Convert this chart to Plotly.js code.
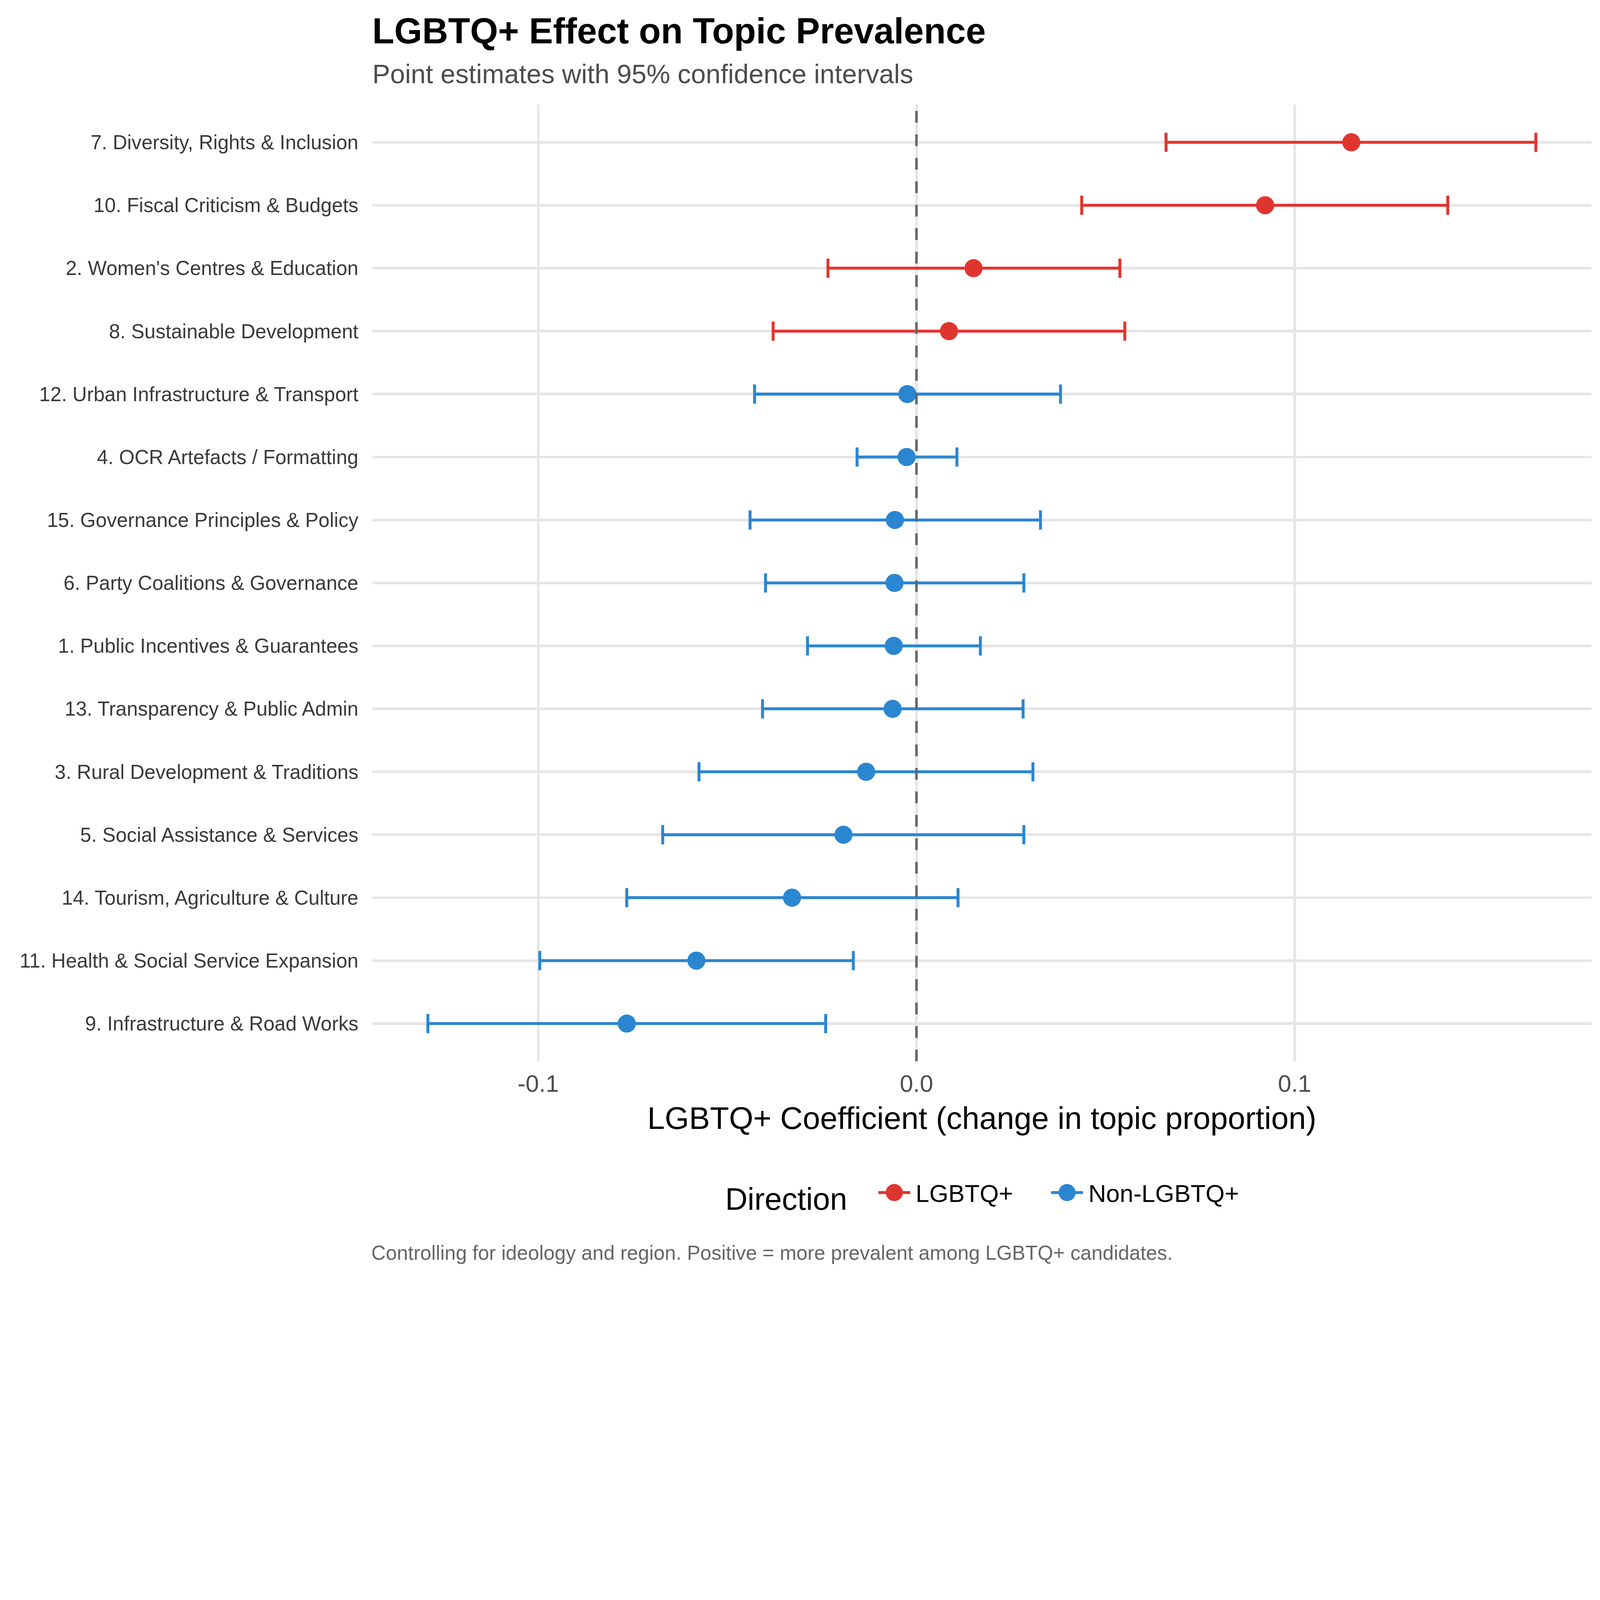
<!DOCTYPE html>
<html>
<head>
<meta charset="utf-8">
<script src="https://cdn.plot.ly/plotly-3.0.1.min.js"></script>
<style>
html, body { margin:0; padding:0; background:#ffffff; overflow:hidden; }
#wrap { width:1500px; height:1200px; transform-origin:0 0; position:absolute; left:0; top:0; }
#chart { width:1500px; height:1200px; }
</style>
</head>
<body>
<div id="wrap"><div id="chart"></div></div>
<script>
// ---- data (top to bottom) ----
const topics = [
  "7. Diversity, Rights & Inclusion",
  "10. Fiscal Criticism & Budgets",
  "2. Women's Centres & Education",
  "8. Sustainable Development",
  "12. Urban Infrastructure & Transport",
  "4. OCR Artefacts / Formatting",
  "15. Governance Principles & Policy",
  "6. Party Coalitions & Governance",
  "1. Public Incentives & Guarantees",
  "13. Transparency & Public Admin",
  "3. Rural Development & Traditions",
  "5. Social Assistance & Services",
  "14. Tourism, Agriculture & Culture",
  "11. Health & Social Service Expansion",
  "9. Infrastructure & Road Works"
];
const estimate = [0.1150, 0.0922, 0.0151, 0.0086, -0.0024, -0.0026, -0.0057, -0.0058, -0.0060, -0.0063, -0.0133, -0.0193, -0.0329, -0.0582, -0.0766];
const ciLow    = [0.0660, 0.0437, -0.0234, -0.0379, -0.0428, -0.0157, -0.0440, -0.0399, -0.0288, -0.0407, -0.0575, -0.0671, -0.0766, -0.0996, -0.1292];
const ciHigh   = [0.1638, 0.1405, 0.0538, 0.0551, 0.0381, 0.0107, 0.0328, 0.0284, 0.0169, 0.0282, 0.0308, 0.0284, 0.0110, -0.0167, -0.0240];
const direction = ["LGBTQ+","LGBTQ+","LGBTQ+","LGBTQ+","Non-LGBTQ+","Non-LGBTQ+","Non-LGBTQ+","Non-LGBTQ+","Non-LGBTQ+","Non-LGBTQ+","Non-LGBTQ+","Non-LGBTQ+","Non-LGBTQ+","Non-LGBTQ+","Non-LGBTQ+"];
const groups = ["LGBTQ+", "Non-LGBTQ+"];
const xTickVals = [-0.1, 0.0, 0.1];
const xTickText = ["-0.1", "0.0", "0.1"];

// ---- style ----
const FONT = "Liberation Sans, Arial, Helvetica, sans-serif";
const groupColors = {"LGBTQ+": "#E0352F", "Non-LGBTQ+": "#2B86D1"};
const W = 1500, H = 1200;
const NBSP = "\u00a0";

// fit the 5:4 figure into whatever window the page gets
const scale = Math.min(window.innerWidth / W, window.innerHeight / H);
document.getElementById('wrap').style.transform = 'scale(' + scale + ')';

const traces = [];
groups.forEach(g => {
  const idx = topics.map((_, i) => i).filter(i => direction[i] === g);
  traces.push({
    type: "scatter",
    mode: "markers",
    name: g,
    showlegend: false,
    x: idx.map(i => estimate[i]),
    y: idx.map(i => topics[i]),
    marker: { size: 17, color: groupColors[g] },
    error_x: {
      type: "data",
      symmetric: false,
      array: idx.map(i => ciHigh[i] - estimate[i]),
      arrayminus: idx.map(i => estimate[i] - ciLow[i]),
      color: groupColors[g],
      thickness: 2.75,
      width: 9
    },
    hoverinfo: "x+y"
  });
});
// legend entries (point + line glyph); trailing spaces widen the gap between entries
groups.forEach((g, k) => {
  traces.push({
    type: "scatter",
    mode: "lines+markers",
    name: g + (k < groups.length - 1 ? NBSP.repeat(4) : ""),
    x: [null], y: [null],
    line: { color: groupColors[g], width: 2.75 },
    marker: { size: 17, color: groupColors[g] },
    hoverinfo: "skip",
    showlegend: true
  });
});

const layout = {
  width: W, height: H,
  paper_bgcolor: "#ffffff", plot_bgcolor: "#ffffff",
  font: { family: FONT, color: "#000000" },
  margin: { l: 349, r: 7.5, t: 98, b: 205, pad: 0 },
  title: {
    text: "<b>LGBTQ+ Effect on Topic Prevalence</b>",
    font: { family: FONT, size: 33.7, color: "#000000" },
    xref: "container", x: 349 / W, xanchor: "left",
    yref: "container", y: 1 - 17 / H, yanchor: "top"
  },
  xaxis: {
    range: [-0.1439, 0.1785],
    tickvals: xTickVals, ticktext: xTickText,
    showgrid: true, gridcolor: "#e6e6e6", gridwidth: 2.5,
    zeroline: false, showline: false, ticks: "",
    tickfont: { family: FONT, size: 22.5, color: "#4d4d4d" },
    ticklabelstandoff: 5,
    title: { text: "LGBTQ+ Coefficient (change in topic proportion)", font: { family: FONT, size: 29.3, color: "#000000" }, standoff: 10 },
    automargin: false, fixedrange: true
  },
  yaxis: {
    type: "category", categoryorder: "array", categoryarray: topics,
    range: [topics.length - 0.4, -0.6],
    showgrid: true, gridcolor: "#e6e6e6", gridwidth: 2.5,
    zeroline: false, showline: false, ticks: "",
    tickfont: { family: FONT, size: 18.7, color: "#3a3a3a" },
    ticklabelstandoff: 12,
    automargin: false, fixedrange: true
  },
  shapes: [{
    type: "line", xref: "x", yref: "paper", x0: 0, x1: 0, y0: 0, y1: 1,
    line: { color: "#666666", width: 2.3, dash: "11px,11px" },
    layer: "above"
  }],
  legend: {
    orientation: "h", x: 0.2877, xanchor: "left", y: -0.14, yanchor: "middle",
    title: { text: "Direction" + NBSP + NBSP, side: "left", font: { family: FONT, size: 29, color: "#000000" } },
    font: { family: FONT, size: 23, color: "#000000" },
    bgcolor: "rgba(0,0,0,0)"
  },
  annotations: [
    {
      text: "Point estimates with 95% confidence intervals",
      xref: "paper", yref: "paper", x: 0, y: 1.015, xanchor: "left", yanchor: "bottom", xshift: -2,
      showarrow: false, font: { family: FONT, size: 25, color: "#4d4d4d" }
    },
    {
      text: "Controlling for ideology and region. Positive = more prevalent among LGBTQ+ candidates.",
      xref: "paper", yref: "paper", x: 0, y: -0.214, xanchor: "left", yanchor: "bottom", xshift: -3,
      showarrow: false, font: { family: FONT, size: 18.75, color: "#666666" }
    }
  ]
};

Plotly.newPlot("chart", traces, layout, { displayModeBar: false, staticPlot: true });
</script>
</body>
</html>
